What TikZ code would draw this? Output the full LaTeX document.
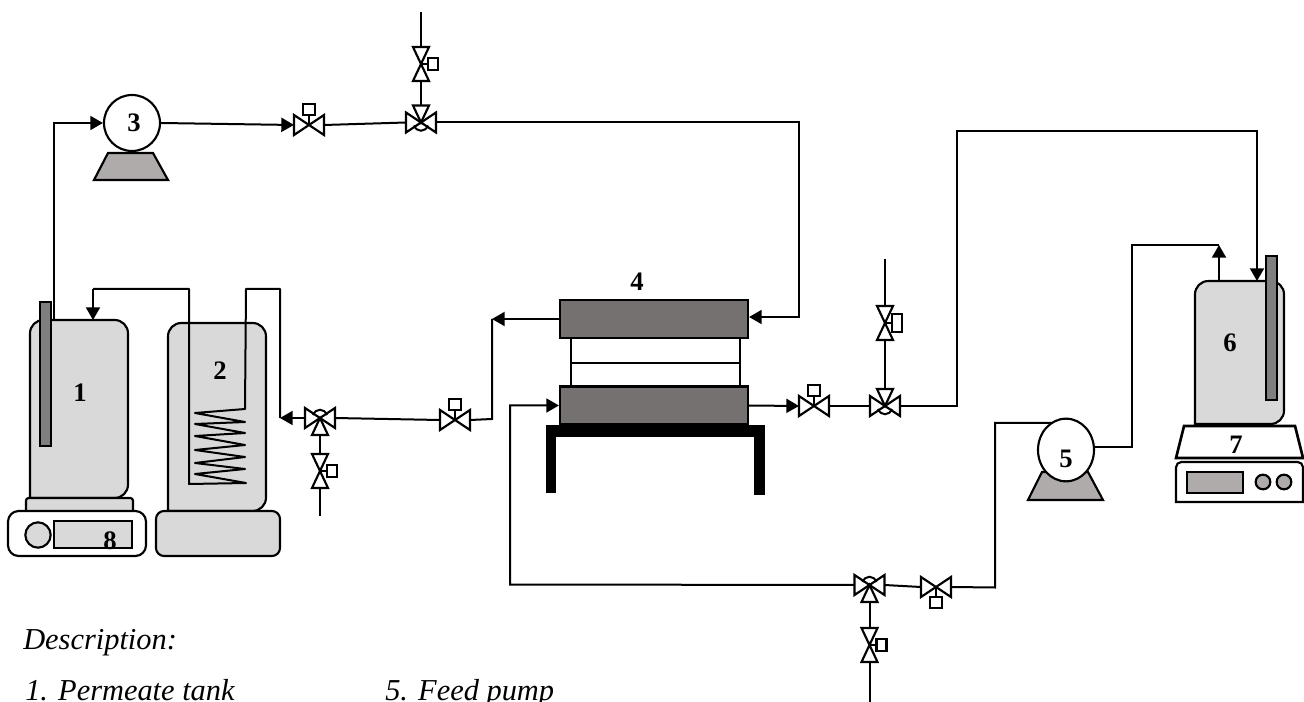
\documentclass[tikz,border=0pt]{standalone}
\usepackage{fontspec}
\setmainfont{Liberation Serif}
\usetikzlibrary{arrows.meta}
\usetikzlibrary{shapes.geometric}
\definecolor{tankgray}{HTML}{D9D9D9}
\definecolor{probegray}{HTML}{7F7F7F}
\definecolor{basegray}{HTML}{AFABAB}
\definecolor{plategray}{HTML}{767171}
\tikzset{
  pipe/.style={line width=1.5pt},
  flow/.style={pipe, -{Triangle[length=9.5pt,width=10.5pt]}},
  unit/.style={draw, line width=1.6pt},
  num/.style={font=\fontsize{20}{20}\selectfont\bfseries, inner sep=0pt},
  caption/.style={font=\fontsize{22.8}{24}\selectfont\itshape, anchor=base west, inner sep=0pt},
  plate/.style={unit, fill=plategray, minimum width=141pt, minimum height=28.5pt, inner sep=0pt},
  pump/.style={unit, fill=white, circle, minimum size=42pt, inner sep=0pt},
  valveh/.pic={
    \draw[unit, fill=white] (0,0) -- (-15,-10) -- (-15,10) -- cycle (0,0) -- (15,-10) -- (15,10) -- cycle;
    \draw[unit, fill=white] (0,0) -- (0,-10) (-6,-21) rectangle (6,-10);
    \coordinate (-w) at (-15,0);
    \coordinate (-e) at (15,0);
  },
  pics/valvev/.style={code={
    \draw[unit, fill=white] (0,0) -- (-8,-17) -- (8,-17) -- cycle (0,0) -- (-8,17) -- (8,17) -- cycle;
    \draw[unit, fill=white] (0,0) -- (7,0) (7,-#1) rectangle (17,#1);
    \coordinate (-n) at (0,-17);
    \coordinate (-s) at (0,17);
  }},
  valvet/.pic={
    \draw[unit, fill=white] (0,0) -- (-15,-10) -- (-15,10) -- cycle (0,0) -- (15,-10) -- (15,10) -- cycle;
    \draw[unit, fill=white] (0,0) -- (-8,-17) -- (8,-17) -- cycle;
    \draw[pipe] (-7,3) .. controls (-4,10) and (4,10) .. (7,3);
    \coordinate (-w) at (-15,0);
    \coordinate (-e) at (15,0);
    \coordinate (-t) at (0,-17);
  },
}
\begin{document}
\begin{tikzpicture}[x=0.75pt, y=-0.75pt]
\useasboundingbox (0,0) rectangle (1304,702);
\clip (0,0) rectangle (1304,702);
% tank 1 on its stirrer
\draw [unit, fill=tankgray] (30,498) [rounded corners=10pt] -- (30,320) -- (128,320) -- (128,498) [sharp corners] -- cycle;
\draw [unit, fill=tankgray, rounded corners=2pt] (26,511) -- (26,498) -- (133,498) -- (133,511);
\draw [unit, fill=white, rounded corners=8pt] (8,511) rectangle (146,556);
\draw [unit, fill=tankgray] (38,535) circle (9.5pt);
\draw [unit, fill=tankgray] (54,521) rectangle (132,548);
\path (54,320) coordinate (tankAout) (93,320) coordinate (tankAin);
\node (labelH) [num] at (110,541) {8};
\node (labelA) [num] at (80,393) {1};
% tank 2 with its coil
\draw [unit, fill=tankgray] (168,511) [rounded corners=10pt] -- (168,323) -- (266,323) -- (266,511) [sharp corners] -- cycle;
\draw [unit, fill=tankgray, rounded corners=6pt] (156,511) rectangle (280,556);
\node (labelB) [num] at (220,371) {2};
% tank 6 on the balance
\draw [unit, fill=tankgray] (1195,424) [rounded corners=10pt] -- (1195,281) -- (1284,281) -- (1284,424) [sharp corners] -- cycle;
\draw [unit, line width=2pt, fill=white] (1184,426) -- (1295,426) -- (1303,458) -- (1176,458) -- cycle;
\draw [unit, fill=white] (1176,502) [rounded corners=4pt] -- (1176,462) -- (1303,462) [sharp corners] -- (1303,502) -- cycle;
\draw [unit, fill=basegray] (1187,472) rectangle (1243,493);
\draw [unit, fill=basegray] (1263,482) circle (5.5pt);
\draw [unit, fill=basegray] (1284,482) circle (5.5pt);
\path (1219,281) coordinate (tankFout) (1257,281) coordinate (tankFin);
\node (labelF) [num] at (1230,343) {6};
\node (labelG) [num] at (1236,445) {7};
% membrane cell
\draw [unit] (571,338) rectangle (740,386);
\draw [line width=0.8pt] (571,363) -- (740,363);
\node (plateA) [plate] at (654,319) {};
\node (plateB) [plate] at (654,405.5) {};
\fill (546,425) rectangle (765,437);
\fill (546,425) rectangle (556,493);
\fill (754,425) rectangle (765,495);
\node (labelD) [num] at (637,282) {4};
% pumps
\draw [unit, fill=basegray] (108,153) -- (153,153) -- (168,180) -- (94,180) -- cycle;
\node (pumpC) [pump] at (132,123) {};
\node (labelC) [num] at (134,123) {3};
\draw [unit, fill=basegray] (1042,472) -- (1088,472) -- (1103,500) -- (1028,500) -- cycle;
\node (pumpE) [unit, fill=white, ellipse, minimum width=42pt, minimum height=47pt, inner sep=0pt] at (1066,450) {};
\node (labelE) [num] at (1066,459) {5};
% valves
\pic (vA) at (309,125) {valveh};
\pic (vB) at (421,122.5) {valvet};
\pic (vC) at (421,64) {valvev=6};
\pic (vD) at (455,420) {valveh};
\pic (vE) [rotate=180] at (320,418) {valvet};
\pic (vF) at (320,471) {valvev=6};
\pic (vG) at (814,406) {valveh};
\pic (vH) at (885,406) {valvet};
\pic (vI) at (885,323) {valvev=9};
\pic (vJ) [rotate=180] at (869.5,585) {valvet};
\pic (vK) at (869.5,645) {valvev=6};
\pic (vL) [rotate=180] at (936,587) {valveh};
% free pipe ends
\path (421,12) coordinate (endA) (320,516) coordinate (endB) (885,259) coordinate (endC) (869.5,702) coordinate (endD);
\path (93,289) coordinate (turnA) (189,289) coordinate (turnB) (189,484) coordinate (coilA) (245,409) coordinate (coilB) (246,289) coordinate (turnC) (280,289) coordinate (turnD) (280,418) coordinate (turnS);
\path (492,319) coordinate (turnE) (492,419) coordinate (turnF) (510,584.5) coordinate (turnG) (510,405.5) coordinate (turnH);
\path (1219,245) coordinate (turnI) (1132,245) coordinate (turnJ) (1132,447) coordinate (turnK) (1052,423) coordinate (turnT) (995,423) coordinate (turnL) (995,587.5) coordinate (turnM);
\path (799,122.5) coordinate (turnN) (799,317) coordinate (turnO) (957,406) coordinate (turnP) (957,131) coordinate (turnQ) (1257,131) coordinate (turnR);
% pipes
\draw [flow] (tankAout) |- (pumpC.west);
\draw [flow] (turnA) -- (tankAin);
\draw [pipe, line join=round] (turnA) -- (turnB) -- (coilA) -- (246,483) -- (195,474) -- (245,469) -- (195,463) -- (245,457) -- (195,450) -- (245,445) -- (195,436) -- (245,433) -- (195,424) -- (245,422) -- (195,413) -- (coilB) -- (turnC) -- (turnD) -- (turnS);
\draw [flow] (vE-e) -- (turnS);
\draw [flow] (pumpC.east) -- (vA-w);
\draw [pipe] (vA-e) -- (vB-w);
\draw [pipe] (endA) -- (vC-n);
\draw [pipe] (vC-s) -- (vB-t);
\draw [flow] (vB-e) -- (turnN) -- (turnO) -- (plateA.east |- turnO);
\draw [pipe] (vD-w) -- (vE-w);
\draw [pipe] (vE-t) -- (vF-n);
\draw [pipe] (vF-s) -- (endB);
\draw [flow] (plateA.west) -- (turnE);
\draw [pipe] (turnE) -- (turnF) -- (vD-e);
\draw [flow] (plateB.east) -- (vG-w);
\draw [pipe] (vG-e) -- (vH-w);
\draw [pipe] (endC) -- (vI-n);
\draw [pipe] (vI-s) -- (vH-t);
\draw [flow] (vH-e) -- (turnP) -- (turnQ) -- (turnR) -- (tankFin);
\draw [flow] (tankFout) -- (turnI);
\draw [pipe] (turnI) -- (turnJ) -- (turnK) -- (pumpE.east |- turnK);
\draw [pipe] (turnT) -- (turnL) -- (turnM) -- (vL-w);
\draw [pipe] (vL-e) -- (vJ-w);
\draw [flow] (vJ-e) -- (turnG) -- (turnH) -- (plateB.west);
\draw [pipe] (vJ-t) -- (vK-n);
\draw [pipe] (vK-s) -- (endD);
% probes
\draw [unit, fill=probegray] (40,302) rectangle (51,446);
\draw [unit, fill=probegray] (1266,256) rectangle (1277,400);
% description
\node (textA) [caption] at (23,649) {Description:};
\node (textB) [caption] at (25,700) {1. Permeate tank};
\node (textC) [caption] at (385,700) {5. Feed pump};
\end{tikzpicture}
\end{document}
